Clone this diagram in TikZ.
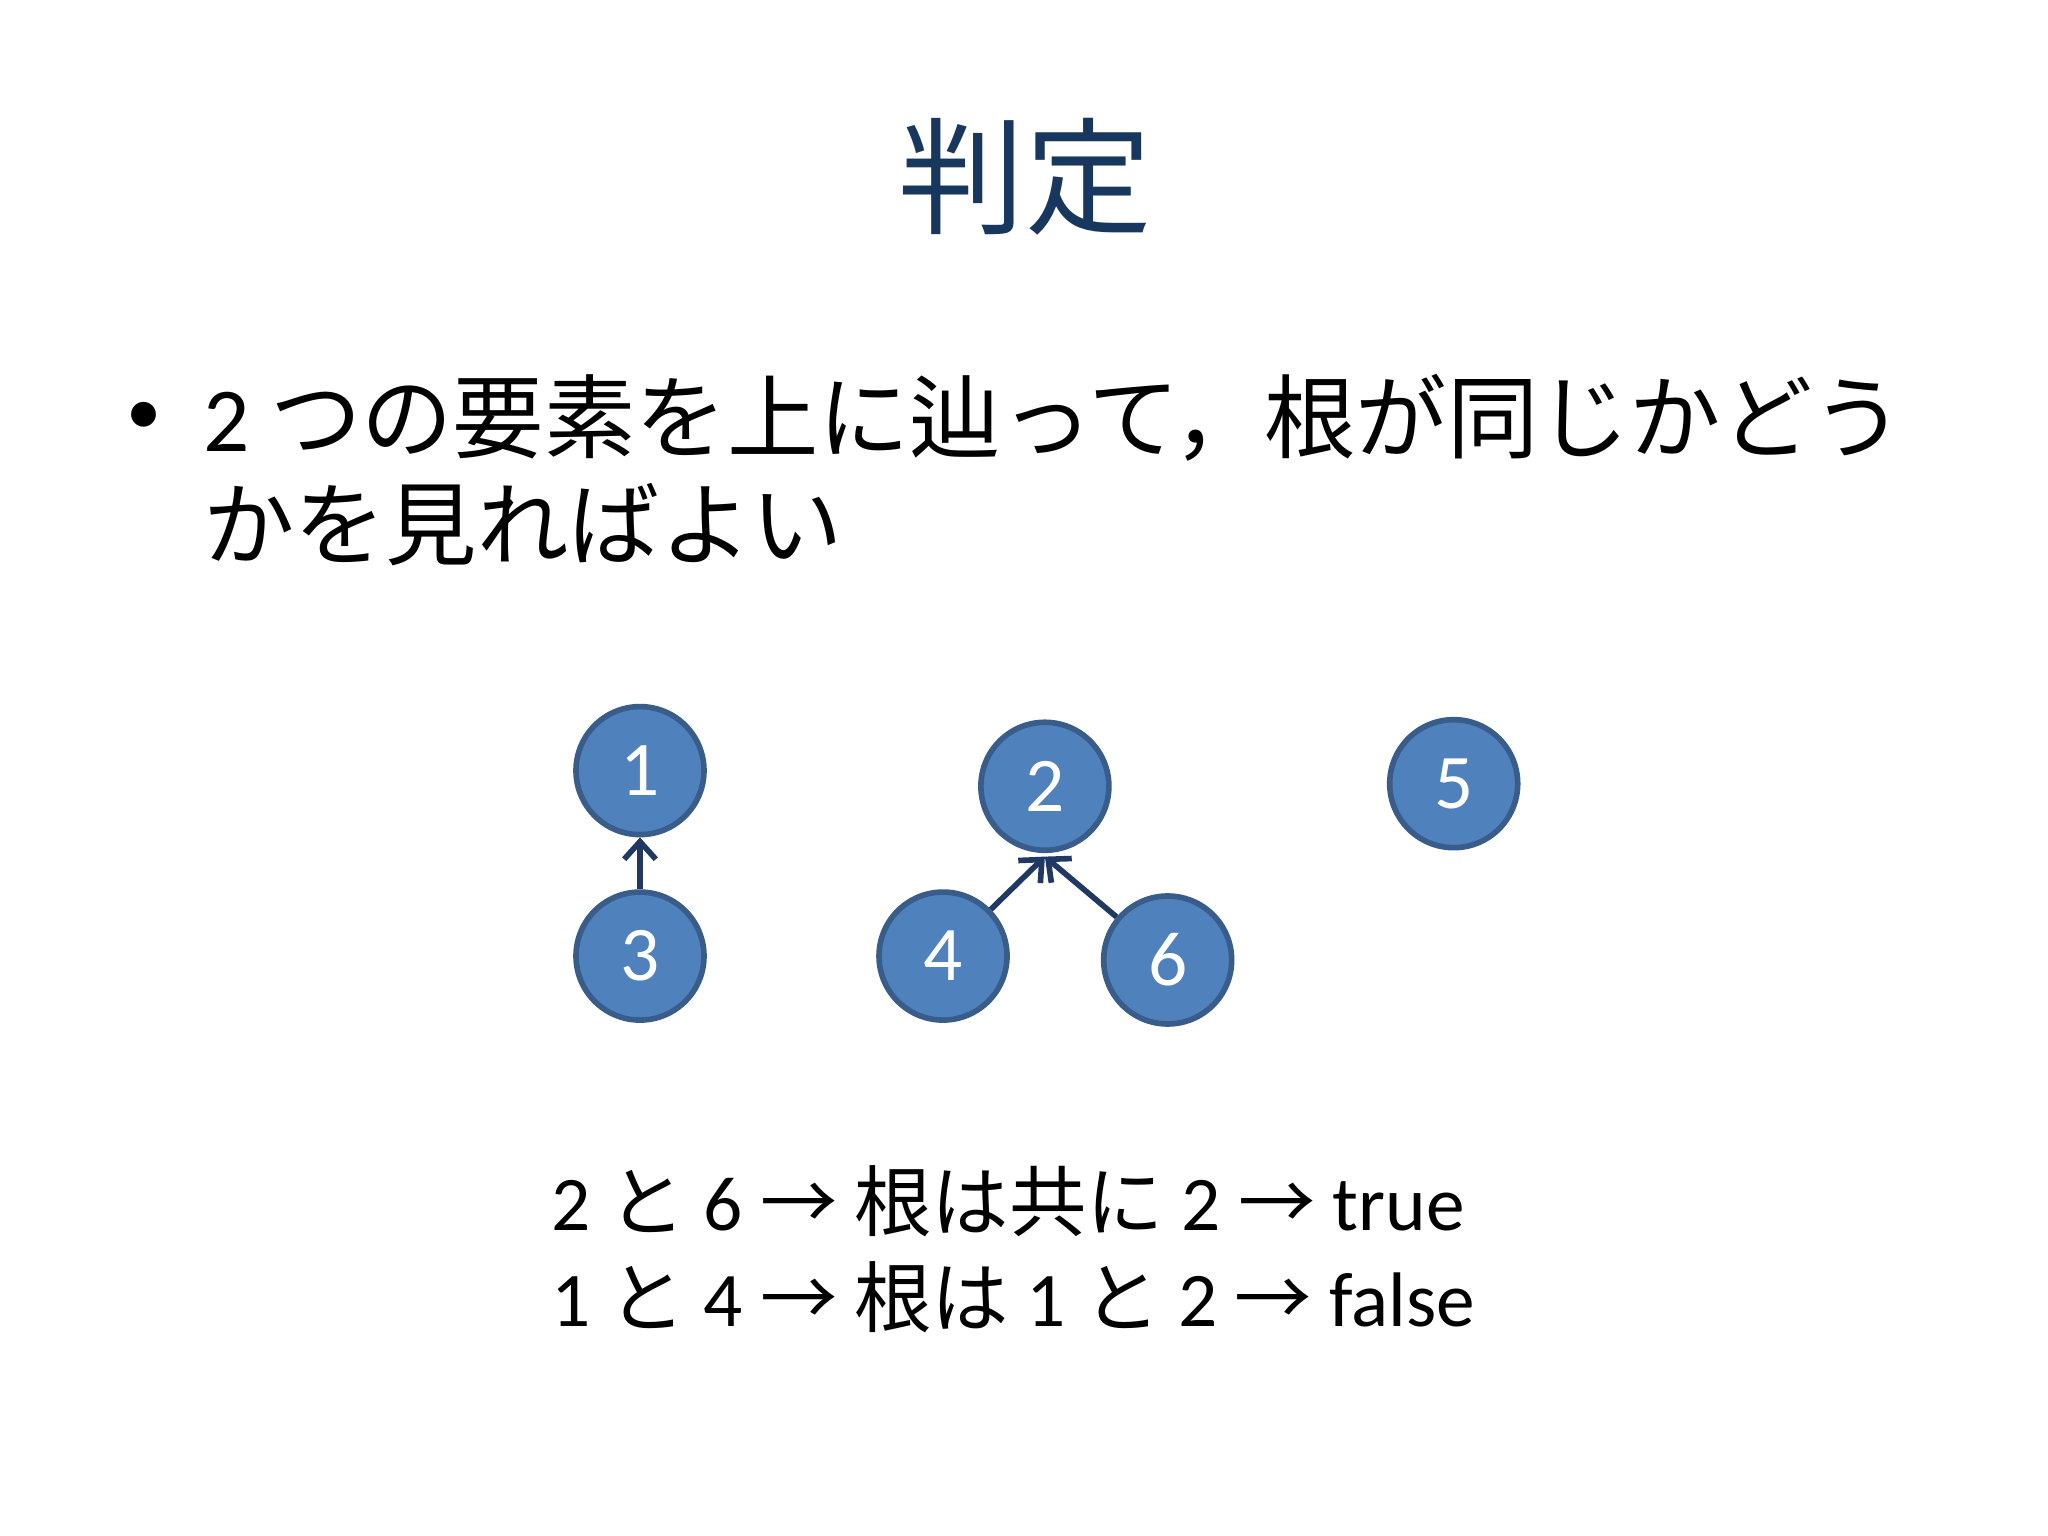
\documentclass[tikz,border=0pt]{standalone}
\usepackage{fontspec}
\usetikzlibrary{arrows.meta}
\setmainfont{Carlito}
\newfontfamily\jp{Noto Sans CJK JP}
\definecolor{nodefill}{HTML}{4F81BD}
\definecolor{nodeedge}{HTML}{385D8A}
\definecolor{titleblue}{HTML}{17375E}
\definecolor{arrowblue}{HTML}{1F3864}
\begin{document}
\begin{tikzpicture}[x=0.013061cm,y=-0.013061cm,
  vx/.style={circle,fill=nodefill,draw=nodeedge,line width=1.6pt,minimum size=1.28cm,inner sep=0pt,text=white,font=\fontsize{22}{22}\selectfont},
  par/.style={-{Straight Barb[length=5pt,width=9pt]},draw=arrowblue,line width=1.6pt},
  txt/.style={anchor=west,inner sep=0pt,font=\fontsize{26}{26}\selectfont},
  btxt/.style={anchor=west,inner sep=0pt,font=\fontsize{22}{22}\selectfont}]
\useasboundingbox (0,0) rectangle (1568,1176);
\fill[white] (0,0) rectangle (1568,1176);
\node[text=titleblue,font=\jp\fontsize{36}{36}\selectfont] (title) at (785,135) {判定};
\node[anchor=west,inner sep=0pt,font=\fontsize{20}{20}\selectfont] (bul) at (96,320) {•};
\node[txt] (l1) at (155,320) {2 {\jp つの要素を上に辿って，根が同じかどう}};
\node[txt] (l2) at (155,402) {\jp かを見ればよい};
\node[vx] (n1) at (490,590) {1};
\node[vx] (n3) at (490,732) {3};
\node[vx] (n2) at (800,602) {2};
\node[vx] (n4) at (722,732) {4};
\node[vx] (n6) at (894,735) {6};
\node[vx] (n5) at (1113,600) {5};
\coordinate (tip2) at ([yshift=-1pt]n2.south);
\draw[par] (n3) -- (n1);
\draw[par] (n4) -- (tip2);
\draw[par] (n6) -- (tip2);
\node[btxt] (b1) at (422,920) {2 {\jp と} 6 {\jp → 根は共に} 2 {\jp →} true};
\node[btxt] (b2) at (422,993) {1 {\jp と} 4 {\jp → 根は} 1 {\jp と} 2 {\jp →} false};
\end{tikzpicture}
\end{document}
